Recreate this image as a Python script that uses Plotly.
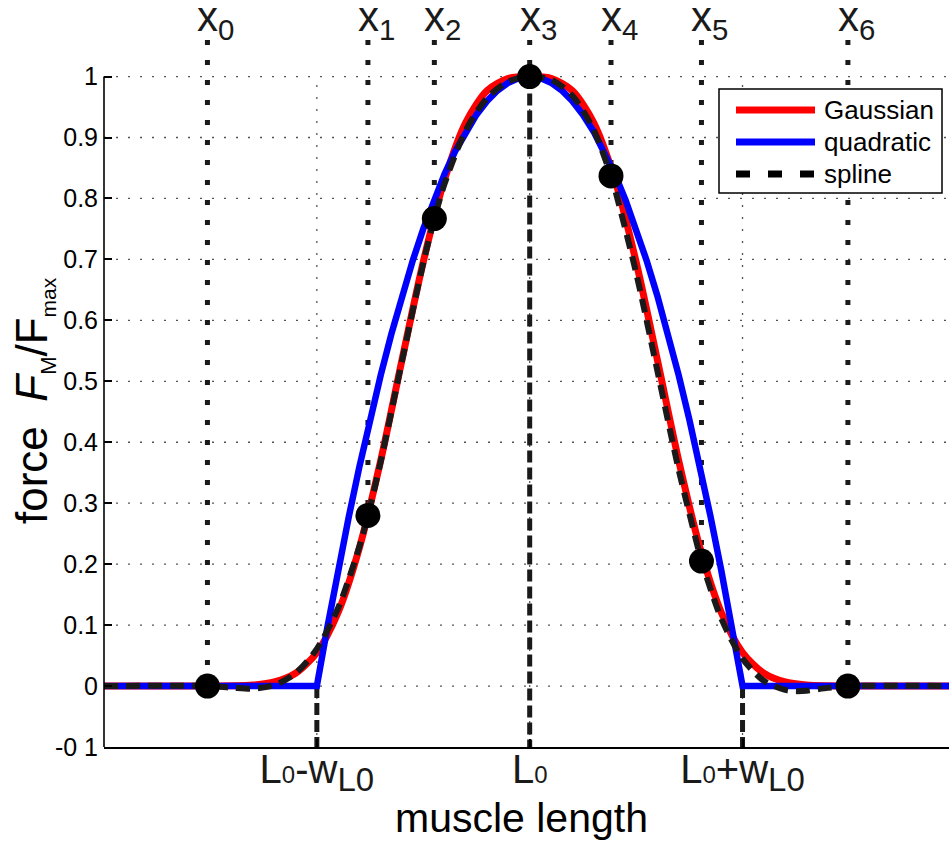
import plotly.graph_objects as go

# ---------------- data ----------------
knot_labels = ["x<sub>0</sub>", "x<sub>1</sub>", "x<sub>2</sub>", "x<sub>3</sub>",
               "x<sub>4</sub>", "x<sub>5</sub>", "x<sub>6</sub>"]
knot_x = [-1.514, -0.76, -0.448, 0.0, 0.382, 0.807, 1.495]
knot_y = [0.0, 0.28, 0.767, 1.0, 0.837, 0.205, 0.0]

gauss_x = [-2.0, -1.9, -1.8, -1.7, -1.6, -1.5, -1.4, -1.3, -1.2, -1.1, -1.0,
           -0.9, -0.8, -0.7, -0.6, -0.5, -0.4, -0.3, -0.2, -0.1, 0.0,
           0.1, 0.2, 0.3, 0.4, 0.5, 0.6, 0.7, 0.8, 0.9, 1.0,
           1.1, 1.2, 1.3, 1.4, 1.5, 1.6, 1.7, 1.8, 1.9, 2.0]
gauss_y = [0.0, 0.0, 0.0, 0.0, 0.0, 0.0001, 0.0004, 0.0017, 0.0067, 0.021, 0.055,
           0.121, 0.227, 0.370, 0.535, 0.696, 0.831, 0.925, 0.977, 0.997, 1.0,
           0.997, 0.977, 0.925, 0.831, 0.696, 0.535, 0.370, 0.227, 0.121, 0.055,
           0.021, 0.0067, 0.0017, 0.0004, 0.0001, 0.0, 0.0, 0.0, 0.0, 0.0]

quad_x = [-2.0, -1.0, -0.95, -0.9, -0.85, -0.8, -0.75, -0.7, -0.65, -0.6, -0.55,
          -0.5, -0.45, -0.4, -0.35, -0.3, -0.25, -0.2, -0.15, -0.1, -0.05, 0.0,
          0.05, 0.1, 0.15, 0.2, 0.25, 0.3, 0.35, 0.4, 0.45, 0.5,
          0.55, 0.6, 0.65, 0.7, 0.75, 0.8, 0.85, 0.9, 0.95, 1.0, 2.0]
quad_y = [0.0, 0.0, 0.0975, 0.19, 0.2775, 0.36, 0.4375, 0.51, 0.5775, 0.64, 0.6975,
          0.75, 0.7975, 0.84, 0.8775, 0.91, 0.9375, 0.96, 0.9775, 0.99, 0.9975, 1.0,
          0.9975, 0.99, 0.9775, 0.96, 0.9375, 0.91, 0.8775, 0.84, 0.7975, 0.75,
          0.6975, 0.64, 0.5775, 0.51, 0.4375, 0.36, 0.2775, 0.19, 0.0975, 0.0, 0.0]

spline_x = [-2.0, -1.514, -1.4, -1.3, -1.2, -1.1, -1.0, -0.9, -0.8, -0.76, -0.7,
            -0.6, -0.5, -0.448, -0.4, -0.3, -0.2, -0.1, 0.0, 0.1, 0.2, 0.3,
            0.382, 0.4, 0.5, 0.6, 0.7, 0.8, 0.807, 0.9, 1.0, 1.1, 1.2, 1.25,
            1.3, 1.4, 1.495, 2.0]
spline_y = [0.0, 0.0, -0.0026, -0.0043, 0.0014, 0.021, 0.061, 0.128, 0.229, 0.28, 0.368,
            0.533, 0.694, 0.767, 0.824, 0.912, 0.965, 0.992, 1.0, 0.995, 0.969, 0.913,
            0.837, 0.816, 0.678, 0.517, 0.355, 0.214, 0.205, 0.111, 0.045, 0.0086, -0.0064, -0.0083,
            -0.0077, -0.003, 0.0, 0.0]

series_names = ["Gaussian", "quadratic", "spline"]

x_tick_vals = [-1.0, 0.0, 1.0]
x_tick_text = [
    "L<span style='font-size:24px'>0</span>-w<sub><span style='font-size:33px'>L0</span></sub>",
    "L<span style='font-size:24px'>0</span>",
    "L<span style='font-size:24px'>0</span>+w<sub><span style='font-size:33px'>L0</span></sub>",
]
y_tick_vals = [-0.1, 0.0, 0.1, 0.2, 0.3, 0.4, 0.5, 0.6, 0.7, 0.8, 0.9, 1.0]
y_tick_text = ["-0 1", "0", "0.1", "0.2", "0.3", "0.4", "0.5", "0.6", "0.7", "0.8", "0.9", "1"]

# ---------------- layout constants ----------------
W, H = 949, 841
ML, MR, MT, MB = 104, 0, 40, 94
PW, PH = W - ML - MR, H - MT - MB
X_RANGE = [-2.0, 1.97]
Y_RANGE = [-0.1, 1.06]
FONT = "Liberation Sans, Arial, Helvetica, sans-serif"
RED, BLUE, INK = "#ff0000", "#0000ff", "#1a1a1a"
SPLINE_DASH = "14px,8px"


def pxx(px):
    return (px - ML) / PW


def pxy(py):
    return (H - MB - py) / PH


fig = go.Figure()

# vertical dotted lines at the knots (from the top down to the knot)
for kx, ky in zip(knot_x, knot_y):
    fig.add_trace(go.Scatter(x=[kx, kx], y=[Y_RANGE[1], ky], mode="lines",
                             line=dict(color=INK, width=5, dash="5px,15px"),
                             showlegend=False, hoverinfo="skip"))

# dashed drop lines at L0-w, L0, L0+w (from the quadratic curve down to the axis)
for v in x_tick_vals:
    top = quad_y[quad_x.index(v)]
    fig.add_trace(go.Scatter(x=[v, v], y=[top, Y_RANGE[0]], mode="lines",
                             line=dict(color=INK, width=5, dash="12px,5px"),
                             showlegend=False, hoverinfo="skip"))

fig.add_trace(go.Scatter(x=gauss_x, y=gauss_y, mode="lines", name=series_names[0],
                         line=dict(color=RED, width=7, shape="spline", smoothing=0.8),
                         showlegend=False))
fig.add_trace(go.Scatter(x=quad_x, y=quad_y, mode="lines", name=series_names[1],
                         line=dict(color=BLUE, width=6.5), showlegend=False))
fig.add_trace(go.Scatter(x=spline_x, y=spline_y, mode="lines", name=series_names[2],
                         line=dict(color=INK, width=6, dash=SPLINE_DASH,
                                   shape="spline", smoothing=0.8),
                         showlegend=False))
fig.add_trace(go.Scatter(x=knot_x, y=knot_y, mode="markers",
                         marker=dict(color="black", size=25),
                         showlegend=False, hoverinfo="skip"))

shapes = []
# dotted grid
for yv in y_tick_vals:
    if yv > Y_RANGE[0]:
        shapes.append(dict(type="line", xref="paper", yref="y", x0=0, x1=1, y0=yv, y1=yv,
                           line=dict(color="#555555", width=1.3, dash="2px,10px"),
                           layer="below"))
for xv in x_tick_vals:
    shapes.append(dict(type="line", xref="x", yref="y", x0=xv, x1=xv,
                       y0=Y_RANGE[0], y1=max(y_tick_vals),
                       line=dict(color="#555555", width=1.3, dash="2px,10px"),
                       layer="below"))
# left axis line (ends at the top tick)
shapes.append(dict(type="line", xref="paper", yref="y", x0=0, x1=0,
                   y0=Y_RANGE[0], y1=max(y_tick_vals),
                   line=dict(color="black", width=1.6), layer="above"))

# hand-drawn legend box
shapes.append(dict(type="rect", xref="paper", yref="paper",
                   x0=pxx(719), x1=pxx(942), y0=pxy(193), y1=pxy(89),
                   line=dict(color="black", width=1.5), fillcolor="white", layer="above"))
leg_rows = [110, 142, 174]
leg_styles = [dict(color=RED, width=7), dict(color=BLUE, width=7),
              dict(color="black", width=7, dash="14px,18px")]
annotations = []
for name, row, st in zip(series_names, leg_rows, leg_styles):
    shapes.append(dict(type="line", xref="paper", yref="paper",
                       x0=pxx(736), x1=pxx(815), y0=pxy(row), y1=pxy(row),
                       line=st, layer="above"))
    annotations.append(dict(xref="paper", yref="paper", x=pxx(822), y=pxy(row),
                            xanchor="left", yanchor="middle", text=name, showarrow=False,
                            font=dict(family=FONT, size=26, color="black")))

# knot labels above the plot
for lab, kx in zip(knot_labels, knot_x):
    annotations.append(dict(xref="x", yref="paper", x=kx, y=pxy(-9), xanchor="left",
                            yanchor="top", xshift=-12, text=lab, showarrow=False,
                            font=dict(family=FONT, size=42, color="#1a1a1a")))

# axis titles
annotations.append(dict(xref="paper", yref="paper", x=pxx(521), y=pxy(818),
                        xanchor="center", yanchor="middle", text="muscle length",
                        showarrow=False, font=dict(family=FONT, size=41, color="black")))
annotations.append(dict(xref="paper", yref="paper", x=pxx(34), y=pxy(401),
                        xanchor="center", yanchor="middle", textangle=-90,
                        text="force\u00a0\u00a0<i>F</i><sub><span style='font-size:22px'>M</span></sub>"
                             "/F<sub><span style='font-size:21px'>max</span></sub>",
                        showarrow=False, font=dict(family=FONT, size=44, color="black")))

fig.update_layout(
    width=W, height=H,
    margin=dict(l=ML, r=MR, t=MT, b=MB, pad=0),
    paper_bgcolor="white", plot_bgcolor="white",
    font=dict(family=FONT, color="black"),
    shapes=shapes, annotations=annotations,
    showlegend=False,
    xaxis=dict(range=X_RANGE, showgrid=False, zeroline=False,
               showline=True, linecolor="black", linewidth=1.6,
               tickmode="array", tickvals=x_tick_vals, ticktext=x_tick_text,
               ticks="inside", ticklen=8, tickcolor="black", tickwidth=1.5,
               tickfont=dict(family=FONT, size=40, color="#1a1a1a"),
               ticklabelstandoff=-14),
    yaxis=dict(range=Y_RANGE, showgrid=False, zeroline=False, showline=False,
               tickmode="array", tickvals=y_tick_vals, ticktext=y_tick_text,
               ticks="inside", ticklen=8, tickcolor="black", tickwidth=1.5,
               tickfont=dict(family=FONT, size=25, color="black"),
               ticklabelstandoff=5),
)

fig.write_html("out.html")
